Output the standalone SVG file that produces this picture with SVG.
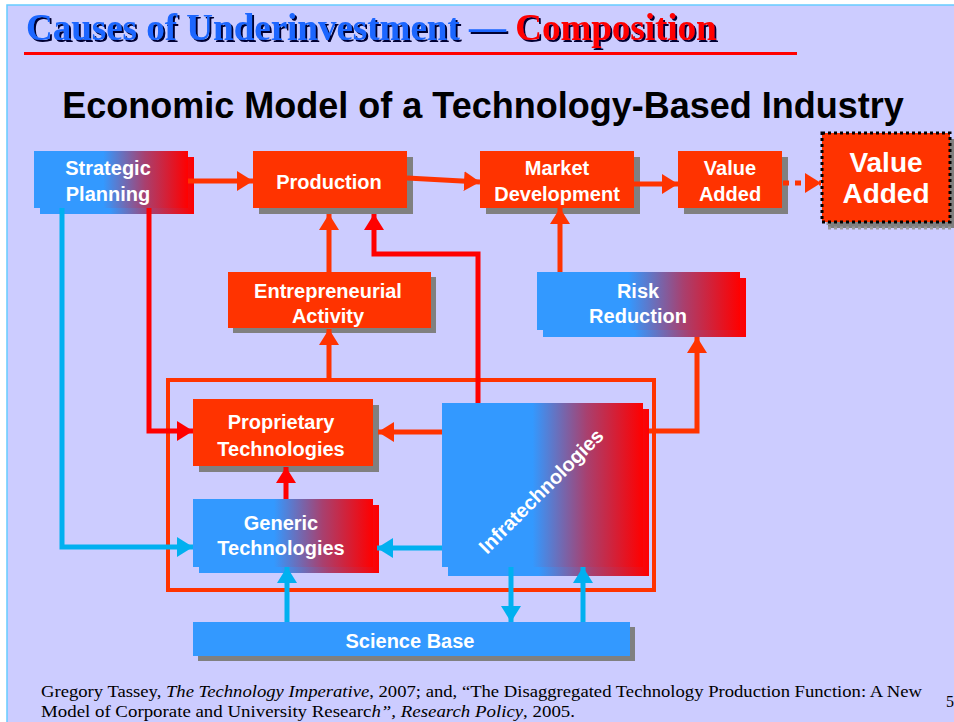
<svg xmlns="http://www.w3.org/2000/svg" width="954" height="722" viewBox="0 0 954 722">
  <defs>
    <linearGradient id="blueRed" x1="0" y1="0" x2="1" y2="0">
      <stop offset="0" stop-color="#3399FF"/>
      <stop offset="0.45" stop-color="#3399FF"/>
      <stop offset="0.72" stop-color="#A8406F"/>
      <stop offset="1" stop-color="#FF0000"/>
    </linearGradient>
    <filter id="titleShadow" x="-5%" y="-20%" width="110%" height="150%">
      <feDropShadow dx="2" dy="2" stdDeviation="0" flood-color="#000033" flood-opacity="1"/>
    </filter>
    <marker id="headOrange" viewBox="0 0 16 20" markerWidth="16" markerHeight="20" refX="16" refY="10" orient="auto" markerUnits="userSpaceOnUse">
      <path d="M0,0 L16,10 L0,20 z" fill="#FF3300"/>
    </marker>
    <marker id="headRed" viewBox="0 0 16 20" markerWidth="16" markerHeight="20" refX="16" refY="10" orient="auto" markerUnits="userSpaceOnUse">
      <path d="M0,0 L16,10 L0,20 z" fill="#FF0000"/>
    </marker>
    <marker id="headCyan" viewBox="0 0 16 20" markerWidth="16" markerHeight="20" refX="16" refY="10" orient="auto" markerUnits="userSpaceOnUse">
      <path d="M0,0 L16,10 L0,20 z" fill="#00B0F0"/>
    </marker>
    <style>
      .lbl { font-family: "Liberation Sans", Arial, sans-serif; font-weight: bold; font-size: 20px; fill: #FFFFFF; text-anchor: middle; }
      .big { font-size: 28px; }
      .solid { fill: #FF3300; }
      .shadow { fill: #808080; }
      .grad { fill: url(#blueRed); }
      .blue { fill: #3399FF; }
      .c { fill: none; stroke-width: 5; }
      .o { stroke: #FF3300; marker-end: url(#headOrange); }
      .r { stroke: #FF0000; marker-end: url(#headRed); }
      .cy { stroke: #00B0F0; marker-end: url(#headCyan); }
      .cite { font-family: "Liberation Serif", "Times New Roman", serif; font-size: 16px; fill: #000000; }
    </style>
  </defs>

  <!-- slide background -->
  <rect x="0" y="0" width="954" height="722" fill="#FFFFFF"/>
  <rect x="7" y="5" width="960" height="730" fill="#CCCCFF" stroke="#66CCFF" stroke-width="1.5"/>

  <!-- heading -->
  <text id="heading" x="26" y="40" font-family="'Liberation Serif', 'Times New Roman', serif" font-weight="bold" font-size="37" fill="#1A66FF" filter="url(#titleShadow)">Causes of Underinvestment — <tspan fill="#FF0000">Composition</tspan></text>
  <rect x="24" y="52" width="773" height="3" fill="#FF0000"/>

  <text id="subtitle" x="483" y="118" font-family="'Liberation Sans', Arial, sans-serif" font-weight="bold" font-size="36" fill="#000000" text-anchor="middle">Economic Model of a Technology-Based Industry</text>

  <!-- outer frame around the technology boxes -->
  <rect id="techFrame" x="168" y="380" width="486" height="210" fill="none" stroke="#FF3300" stroke-width="4"/>

  <!-- nodes -->
  <g id="strategicPlanning">
    <rect class="grad" x="40" y="157" width="154" height="57"/>
    <rect class="grad" x="34" y="151" width="154" height="57"/>
    <text class="lbl" x="108" y="175">Strategic</text>
    <text class="lbl" x="108" y="201">Planning</text>
  </g>

  <g id="production">
    <rect class="shadow" x="259" y="157" width="154" height="57"/>
    <rect class="solid" x="253" y="151" width="154" height="57"/>
    <text class="lbl" x="329" y="189">Production</text>
  </g>

  <g id="marketDevelopment">
    <rect class="shadow" x="486" y="157" width="154" height="57"/>
    <rect class="solid" x="480" y="151" width="154" height="57"/>
    <text class="lbl" x="557" y="175">Market</text>
    <text class="lbl" x="557" y="201">Development</text>
  </g>

  <g id="valueAdded">
    <rect class="shadow" x="684" y="157" width="104" height="57"/>
    <rect class="solid" x="678" y="151" width="104" height="57"/>
    <text class="lbl" x="730" y="175">Value</text>
    <text class="lbl" x="730" y="201">Added</text>
  </g>

  <g id="valueAddedOutcome">
    <rect x="828" y="139" width="128" height="89" fill="#808080" stroke="#999999" stroke-width="3" stroke-dasharray="3,3"/>
    <rect class="solid" x="822" y="133" width="128" height="89" stroke="#000000" stroke-width="3" stroke-dasharray="3,3"/>
    <text class="lbl big" x="886" y="172">Value</text>
    <text class="lbl big" x="886" y="203">Added</text>
  </g>

  <g id="entrepreneurialActivity">
    <rect class="shadow" x="233" y="277" width="203" height="56"/>
    <rect class="solid" x="228" y="272" width="203" height="56"/>
    <text class="lbl" x="328" y="298">Entrepreneurial</text>
    <text class="lbl" x="328" y="323">Activity</text>
  </g>

  <g id="riskReduction">
    <rect class="grad" x="543" y="278" width="203" height="59"/>
    <rect class="grad" x="537" y="272" width="203" height="58"/>
    <text class="lbl" x="638" y="298">Risk</text>
    <text class="lbl" x="638" y="323">Reduction</text>
  </g>

  <g id="proprietaryTechnologies">
    <rect class="shadow" x="199" y="405" width="180" height="67"/>
    <rect class="solid" x="193" y="399" width="180" height="67"/>
    <text class="lbl" x="281" y="429">Proprietary</text>
    <text class="lbl" x="281" y="456">Technologies</text>
  </g>

  <g id="genericTechnologies">
    <rect class="grad" x="199" y="505" width="180" height="68"/>
    <rect class="grad" x="193" y="499" width="180" height="68"/>
    <text class="lbl" x="281" y="530">Generic</text>
    <text class="lbl" x="281" y="555">Technologies</text>
  </g>

  <g id="infratechnologies">
    <rect class="grad" x="448" y="409" width="201" height="167"/>
    <rect class="grad" x="442" y="403" width="201" height="164"/>
    <text class="lbl" x="0" y="7" transform="translate(541,491) rotate(-45)">Infratechnologies</text>
  </g>

  <g id="scienceBase">
    <rect class="shadow" x="198" y="627" width="437" height="34"/>
    <rect class="blue" x="193" y="622" width="437" height="34"/>
    <text class="lbl" x="410" y="648">Science Base</text>
  </g>

  <!-- connectors -->
  <g id="connectors">
    <path class="c o" d="M188,181 L253,181"/>
    <path class="c o" d="M407,178 L480,182"/>
    <path class="c o" d="M634,184 L678,184"/>
    <path class="c o" d="M783,183 L821,183" stroke-dasharray="6,6"/>
    <path class="c o" d="M329,272 L329,214"/>
    <path class="c o" d="M329,380 L329,329"/>
    <path class="c r" d="M478,403 L478,254 L374,254 L374,214"/>
    <path class="c o" d="M560,272 L560,208"/>
    <path class="c o" d="M649,431 L697,431 L697,337"/>
    <path class="c o" d="M442,432 L378,432"/>
    <path class="c cy" d="M442,548 L377,548"/>
    <path class="c r" d="M286,499 L286,467"/>
    <path class="c r" d="M149,208 L149,431 L193,431"/>
    <path class="c cy" d="M62,208 L62,547 L193,547"/>
    <path class="c cy" d="M287,622 L287,567"/>
    <path class="c cy" d="M511,567 L511,622"/>
    <path class="c cy" d="M583,622 L583,567"/>
  </g>

  <!-- source note -->
  <text class="cite" x="41" y="697" textLength="881" lengthAdjust="spacingAndGlyphs">Gregory Tassey, <tspan font-style="italic">The Technology Imperative</tspan>, 2007; and, “The Disaggregated Technology Production Function: A New</text>
  <text class="cite" x="41" y="717" textLength="534" lengthAdjust="spacingAndGlyphs">Model of Corporate and University Researc<tspan font-style="italic">h”, Research Policy</tspan>, 2005.</text>
  <text class="cite" x="946" y="707">5</text>
</svg>
